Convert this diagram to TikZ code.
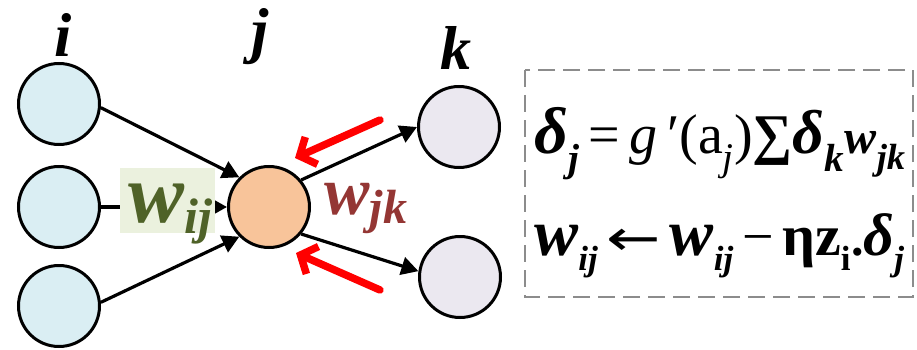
\documentclass[tikz,border=0pt]{standalone}
\usepackage{fontspec}
\usepackage{graphicx}
\setmainfont{Liberation Serif}
\newfontfamily\arrowfont{DejaVu Sans}
\usetikzlibrary{arrows.meta}
\definecolor{ifill}{HTML}{DAEEF3}
\definecolor{jfill}{HTML}{F8C49A}
\definecolor{kfill}{HTML}{EBE8F0}
\definecolor{wgreen}{HTML}{4F6228}
\definecolor{wboxc}{HTML}{EBF1DE}
\definecolor{wred}{HTML}{943634}
\definecolor{boxgray}{HTML}{8C8C8C}
\newcommand\bi[1]{\textbf{\textit{#1}}}
\newcommand\fs[1]{\fontsize{#1}{#1}\selectfont}
\begin{document}
\begin{tikzpicture}[x=1pt,y=-1pt,
  neuron/.style={circle, draw=black, line width=3pt, minimum size=81pt, inner sep=0pt},
  conn/.style={line width=3.2pt, -{Triangle[length=17pt,width=18pt]}},
  backarrow/.style={red, line width=7.5pt, line cap=round, -{Straight Barb[length=13pt,width=30pt]}},
  lab/.style={inner sep=0pt, font=\fs{62}\bfseries\itshape}]
\useasboundingbox (0,0) rectangle (917,350);
% neurons
\node[neuron, fill=ifill] (i1) at (59,104) {};
\node[neuron, fill=ifill] (i2) at (59,207) {};
\node[neuron, fill=ifill] (i3) at (59,306) {};
\node[neuron, fill=jfill] (j) at (269,207) {};
\node[neuron, fill=kfill] (k1) at (459,127) {};
\node[neuron, fill=kfill] (k2) at (460,277) {};
% layer labels
\node[lab] (li) at (63,35) {i};
\node[lab] (lj) at (260,37) {j};
\node[lab] (lk) at (456,48) {k};
% connections
\draw[conn] (i1.-5) -- (j.135);
\draw[conn] (i2.east) -- (j.west);
\draw[conn] (i3.5) -- (j.225);
\draw[conn] (j.40) -- (k1.west);
\draw[conn] (j.-40) -- (k2.172);
% w_ij box
\node[fill=wboxc, minimum width=95pt, minimum height=65pt, inner sep=0pt] (wbox) at (167.5,200.5) {};
\node[text=wgreen, inner sep=0pt, anchor=base west] (wij) at (128,222)
  {\fs{84}\bi{w}\raisebox{-11pt}{\fs{50}\bi{ij}}};
% w_jk label
\node[text=wred, inner sep=0pt, anchor=base west] (wjk) at (324,214)
  {\fs{68}\bi{w}\raisebox{-9pt}{\fs{48}\bi{jk}}};
% red back-propagation arrows
\coordinate (r1s) at (380,120);
\coordinate (r1e) at (295,158);
\coordinate (r2s) at (380,290);
\coordinate (r2e) at (296,253);
\draw[backarrow] (r1s) -- (r1e);
\draw[backarrow] (r2s) -- (r2e);
% formula box
\coordinate (fb1) at (525,70);
\coordinate (fb2) at (913,297);
\draw[boxgray, line width=2pt, dash pattern=on 17pt off 8pt] (fb1) rectangle (fb2);
\node[inner sep=0pt, anchor=base west] (eq1) at (534,153)
  {\fs{56}{\fs{66}\bi{δ}}\textsubscript{\bi{j}}\,=\,\textit{g}\,′(a\textsubscript{\textit{j}})\textbf{∑}{\fs{62}\bi{δ}}\textsubscript{\bi{k}}{\fs{48}\bi{w}}{\fs{52}\textsubscript{\bi{jk}}}};
\node[inner sep=0pt, anchor=base west] (eq2) at (534,255)
  {\fs{50}{\fs{66}\bi{w}}\textsubscript{\bi{ij}}\,{\arrowfont\scalebox{1.3}[1]{←}}\,{\fs{66}\bi{w}}\textsubscript{\bi{ij}}\,{\fs{56}−}\,{\fs{58}\textbf{ηz}}\textsubscript{\textbf{i}}\textbf{.}{\fs{60}\bi{δ}}\textsubscript{\bi{j}}};
\end{tikzpicture}
\end{document}
